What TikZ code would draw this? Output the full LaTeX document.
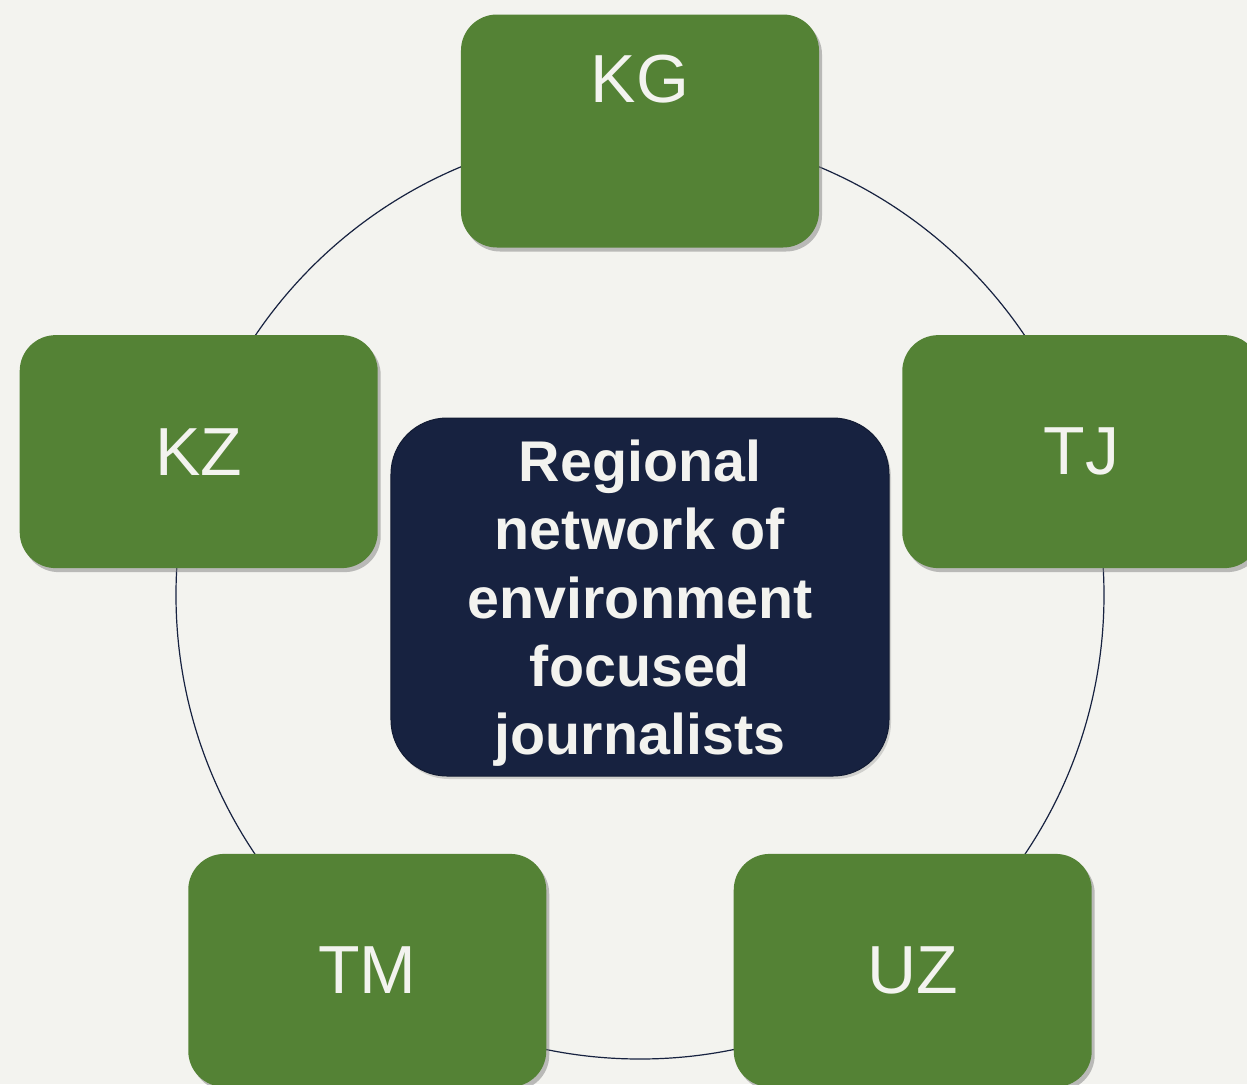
\documentclass[tikz,border=0pt]{standalone}
\usepackage{fontspec}
\setmainfont{Liberation Sans}
\usepackage{tikz}
\usetikzlibrary{shadows}
\definecolor{leaf}{HTML}{548235}
\definecolor{deepnavy}{HTML}{172240}
\definecolor{paper}{HTML}{F3F3EF}
\tikzset{
  country/.style={rectangle, rounded corners=18pt, fill=leaf, text=paper,
    minimum width=179pt, minimum height=116.5pt, inner sep=0pt,
    font=\fontsize{34}{40}\selectfont,
    drop shadow={shadow xshift=1.5pt, shadow yshift=-2pt, opacity=0.5}},
  hub/.style={rectangle, rounded corners=28pt, fill=deepnavy, draw=deepnavy!80!black,
    line width=0.5pt, text=paper, align=center,
    minimum width=249pt, minimum height=179pt, inner sep=0pt,
    font=\bfseries\fontsize{28.7}{34.2}\selectfont,
    drop shadow={shadow xshift=1pt, shadow yshift=-1.5pt, opacity=0.3}},
  ring/.style={draw=deepnavy, line width=0.6pt}
}

\begin{document}
\begin{tikzpicture}[x=0.5pt, y=0.5pt]
\fill[paper] (-640,-489) rectangle (607,595);
\useasboundingbox (-640,-489) rectangle (607,595);
\clip (-640,-489) rectangle (607,595);
% ring behind the boxes
\draw[ring] (0,0) circle (232pt);
\node[hub] (net) at (0,-2) {\rule{0pt}{27pt}Regional\\network of\\environment\\focused\\journalists};
\node[country, text depth=52.5pt] (kg) at (90:464) {KG};
\node[country] (kz) at (162:464) {KZ};
\node[country] (tm) at (234:464) {TM};
\node[country] (uz) at (306:464) {UZ};
\node[country] (tj) at (18:464) {TJ};
\end{tikzpicture}
\end{document}
